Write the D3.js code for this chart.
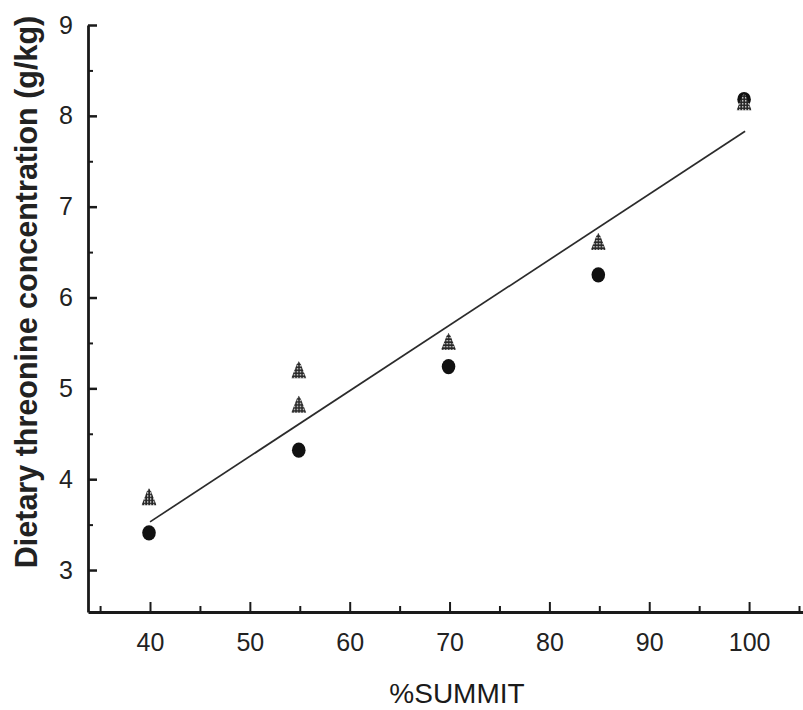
<!DOCTYPE html>
<html>
<head>
<meta charset="utf-8">
<script src="https://cdn.jsdelivr.net/npm/d3@7"></script>
<style>
  body { margin: 0; background: #fff; }
  .tick text { font-family: "Liberation Sans", Arial, sans-serif; font-size: 25px; fill: #222; }
  .axis path, .axis line { stroke: #1a1a1a; }
</style>
</head>
<body>
<svg id="chart"></svg>
<script>
// values
const summitLevels = [40, 55, 70, 85, 99.6];
const circleValues = [3.41, 4.32, 5.24, 6.25, 8.18];
const triangleX = [40, 55, 55, 70, 85, 99.6];
const triangleValues = [3.80, 4.82, 5.20, 5.51, 6.61, 8.15];
const fitX = [40, 99.6];
const fitY = [3.53, 7.83];
const xMajorTicks = [40, 50, 60, 70, 80, 90, 100];
const xMinorTicks = [35, 45, 55, 65, 75, 85, 95, 105];
const yMajorTicks = [3, 4, 5, 6, 7, 8, 9];
const yMinorTicks = [3.5, 4.5, 5.5, 6.5, 7.5, 8.5];

const width = 803, height = 710;
const svg = d3.select("#chart").attr("width", width).attr("height", height);

const x = d3.scaleLinear().domain([33.79, 105.4]).range([88, 803]);
const y = d3.scaleLinear().domain([2.538, 9]).range([612, 25]);

// dotted halftone fill for the triangles
const defs = svg.append("defs");
const pat = defs.append("pattern")
  .attr("id", "dots")
  .attr("patternUnits", "userSpaceOnUse")
  .attr("width", 3).attr("height", 3);
pat.append("rect").attr("width", 3).attr("height", 3).attr("fill", "#262626");
pat.append("rect").attr("x", 1).attr("y", 1).attr("width", 1.3).attr("height", 1.3).attr("fill", "#fff");

// minor ticks
svg.append("g")
  .attr("class", "axis")
  .attr("transform", "translate(0,612)")
  .call(d3.axisBottom(x).tickValues(xMinorTicks).tickSize(-6).tickFormat(""))
  .call(g => g.select(".domain").remove())
  .selectAll("line").attr("stroke-width", 2);

svg.append("g")
  .attr("class", "axis")
  .attr("transform", "translate(88,0)")
  .call(d3.axisLeft(y).tickValues(yMinorTicks).tickSize(-5).tickFormat(""))
  .call(g => g.select(".domain").remove())
  .selectAll("line").attr("stroke-width", 2);

// major axes
const xAxis = svg.append("g")
  .attr("class", "axis")
  .attr("transform", "translate(0,612)")
  .call(d3.axisBottom(x).tickValues(xMajorTicks).tickSize(-10).tickSizeOuter(0).tickPadding(21));
xAxis.select(".domain").attr("stroke-width", 2.8);
xAxis.selectAll(".tick line").attr("stroke-width", 2);

const yAxis = svg.append("g")
  .attr("class", "axis")
  .attr("transform", "translate(88,0)")
  .call(d3.axisLeft(y).tickValues(yMajorTicks).tickFormat(d3.format("d"))
    .tickSize(-9).tickSizeOuter(0).tickPadding(15));
yAxis.select(".domain").attr("stroke-width", 2.8);
yAxis.selectAll(".tick line").attr("stroke-width", 2.5);

// axis titles
svg.append("text")
  .attr("x", 457).attr("y", 703)
  .attr("text-anchor", "middle")
  .style("font-family", "\"Liberation Sans\", Arial, sans-serif")
  .style("font-size", "28px")
  .attr("fill", "#1a1a1a")
  .text("%SUMMIT");

svg.append("text")
  .attr("transform", "translate(37,292) rotate(-90)")
  .attr("text-anchor", "middle")
  .style("font-family", "\"Liberation Sans\", Arial, sans-serif")
  .style("font-size", "30.5px")
  .style("font-weight", "bold")
  .attr("fill", "#222")
  .text("Dietary threonine concentration (g/kg)");

// regression line
svg.append("path")
  .datum(fitX.map((d, i) => [d, fitY[i]]))
  .attr("fill", "none")
  .attr("stroke", "#2b2b2b")
  .attr("stroke-width", 1.7)
  .attr("d", d3.line().x(d => x(d[0])).y(d => y(d[1])));

// filled circles
svg.append("g").selectAll("ellipse")
  .data(summitLevels.map((d, i) => ({ x: d, v: circleValues[i] })))
  .join("ellipse")
  .attr("cx", d => x(d.x) - 1)
  .attr("cy", d => y(d.v))
  .attr("rx", 6.8).attr("ry", 7.6)
  .attr("fill", "#111");

// hatched triangles
svg.append("g").selectAll("path")
  .data(triangleX.map((d, i) => ({ x: d, v: triangleValues[i] })))
  .join("path")
  .attr("transform", d => `translate(${x(d.x) - 1},${y(d.v)})`)
  .attr("d", "M0,-9 L2,-6 L7.5,8 L-7.5,8 L-2,-6 Z")
  .attr("fill", "url(#dots)");
</script>
</body>
</html>
